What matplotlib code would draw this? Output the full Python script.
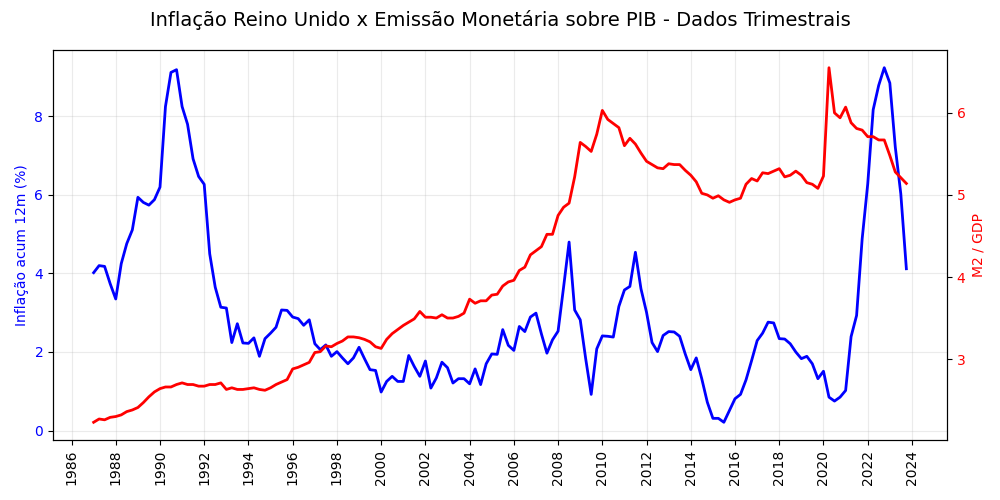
import numpy as np
import pandas as pd
import matplotlib
matplotlib.use("Agg")
import matplotlib.pyplot as plt
import matplotlib.dates as mdates

# quarterly, 1987Q1 .. 2023Q4
datas = pd.date_range("1987-01-01", "2023-10-01", freq="QS")

inflacao = [
    4.02, 4.20, 4.18, 3.74, 3.35, 4.25, 4.76, 5.11, 5.94, 5.81, 5.74, 5.88,
    6.20, 8.25, 9.12, 9.19, 8.25, 7.80, 6.92, 6.47, 6.27, 4.50, 3.65, 3.14,
    3.12, 2.24, 2.72, 2.23, 2.22, 2.36, 1.89, 2.34, 2.48, 2.63, 3.07, 3.06,
    2.89, 2.85, 2.68, 2.82, 2.21, 2.06, 2.18, 1.89, 2.01, 1.85, 1.70, 1.85,
    2.12, 1.83, 1.55, 1.53, 0.98, 1.25, 1.38, 1.25, 1.25, 1.91, 1.63, 1.38,
    1.77, 1.08, 1.34, 1.74, 1.60, 1.21, 1.32, 1.32, 1.19, 1.57, 1.17, 1.70,
    1.95, 1.94, 2.57, 2.17, 2.04, 2.65, 2.52, 2.89, 2.99, 2.46, 1.97, 2.31,
    2.53, 3.65, 4.80, 3.07, 2.82, 1.83, 0.92, 2.08, 2.41, 2.40, 2.38, 3.16,
    3.58, 3.67, 4.54, 3.61, 3.01, 2.24, 2.01, 2.42, 2.52, 2.51, 2.40, 1.95,
    1.55, 1.85, 1.32, 0.72, 0.31, 0.31, 0.21, 0.51, 0.81, 0.92, 1.29, 1.78,
    2.29, 2.48, 2.76, 2.74, 2.34, 2.33, 2.21, 2.00, 1.83, 1.89, 1.70, 1.32,
    1.51, 0.85, 0.75, 0.85, 1.02, 2.39, 2.93, 4.88, 6.28, 8.17, 8.79, 9.24,
    8.85, 7.22, 6.03, 4.12,
]

m2_pib = [
    2.23, 2.27, 2.26, 2.29, 2.30, 2.32, 2.36, 2.38, 2.41, 2.47, 2.54, 2.60,
    2.64, 2.66, 2.66, 2.69, 2.71, 2.69, 2.69, 2.67, 2.67, 2.69, 2.69, 2.71,
    2.63, 2.65, 2.63, 2.63, 2.64, 2.65, 2.63, 2.62, 2.65, 2.69, 2.72, 2.75,
    2.88, 2.90, 2.93, 2.96, 3.08, 3.09, 3.16, 3.15, 3.19, 3.22, 3.27, 3.27,
    3.26, 3.24, 3.21, 3.15, 3.13, 3.24, 3.31, 3.36, 3.41, 3.45, 3.49, 3.58,
    3.51, 3.51, 3.50, 3.54, 3.50, 3.50, 3.52, 3.56, 3.73, 3.68, 3.71, 3.71,
    3.78, 3.79, 3.89, 3.94, 3.96, 4.08, 4.12, 4.27, 4.32, 4.37, 4.52, 4.52,
    4.75, 4.85, 4.90, 5.22, 5.64, 5.59, 5.53, 5.74, 6.03, 5.92, 5.87, 5.82,
    5.60, 5.69, 5.62, 5.51, 5.41, 5.37, 5.33, 5.32, 5.38, 5.37, 5.37, 5.30,
    5.24, 5.16, 5.02, 5.00, 4.96, 4.99, 4.94, 4.91, 4.94, 4.96, 5.13, 5.20,
    5.17, 5.27, 5.26, 5.29, 5.32, 5.22, 5.24, 5.29, 5.24, 5.15, 5.13, 5.08,
    5.23, 6.55, 6.00, 5.94, 6.07, 5.88, 5.81, 5.79, 5.71, 5.71, 5.67, 5.67,
    5.48, 5.28, 5.21, 5.14,
]

fig, ax1 = plt.subplots(figsize=(10, 5), dpi=100)

ax1.plot(datas, inflacao, color="blue", linewidth=2)
ax1.set_ylabel("Inflação acum 12m (%)", color="blue")
ax1.tick_params(axis="y", labelcolor="blue")
ax1.xaxis.set_major_locator(mdates.YearLocator(2))
ax1.xaxis.set_major_formatter(mdates.DateFormatter("%Y"))
ax1.tick_params(axis="x", rotation=90)
ax1.grid(True, alpha=0.25)

ax2 = ax1.twinx()
ax2.plot(datas, m2_pib, color="red", linewidth=2)
ax2.set_ylabel("M2 / GDP", color="red")
ax2.tick_params(axis="y", labelcolor="red")

fig.suptitle("Inflação Reino Unido x Emissão Monetária sobre PIB - Dados Trimestrais", fontsize=14)
fig.subplots_adjust(left=0.053, right=0.947, top=0.9, bottom=0.12)

plt.savefig("out.png")
